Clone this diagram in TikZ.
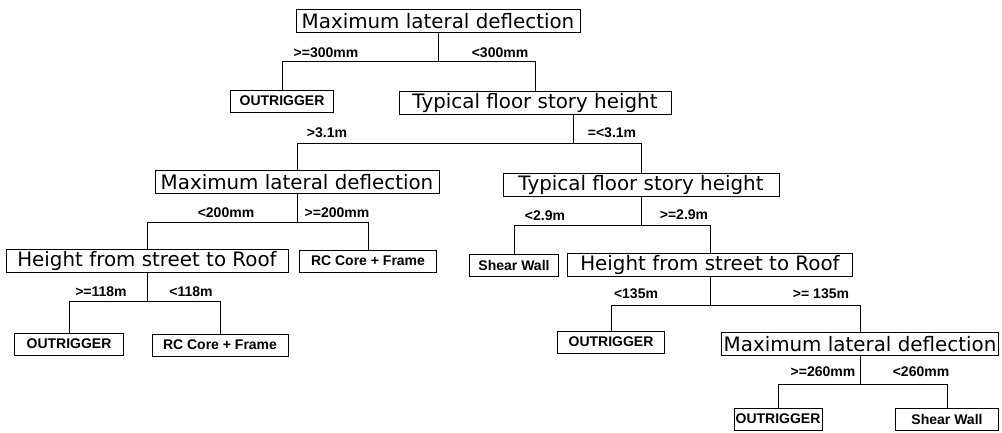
\documentclass[tikz,border=0pt]{standalone}
\usepackage{fontspec}
\setmainfont{Liberation Sans}
\newfontfamily\qfont{DejaVu Sans}

\begin{document}
\begin{tikzpicture}[x=0.75pt, y=-0.75pt, line width=0.6pt,
    qbox/.style={draw, font=\qfont\fontsize{14.9}{17}\selectfont, inner sep=1pt, minimum height=17.25pt},
    rbox/.style={draw, font=\bfseries\fontsize{10.5}{12}\selectfont, inner sep=1pt, minimum height=16.5pt},
    cond/.style={font=\bfseries\fontsize{10.5}{12}\selectfont, inner sep=0pt}]
    \useasboundingbox (0,0) rectangle (1002,432);
    % Questions
    \foreach \n/\x/\y/\w/\t in {q1/438/21/284/Maximum lateral deflection,
        q2/535/103/272/Typical floor story height, q3/297/182/284/Maximum lateral deflection,
        q4/641/185/276/Typical floor story height, q5/147/261/282/Height from street to Roof,
        q6/710/265/285/Height from street to Roof, q7/860/344/277/Maximum lateral deflection}
        \node[qbox, minimum width=\w*0.75pt] (\n) at (\x,\y) {\t};
    % Results
    \foreach \n/\x/\y/\w/\t in {r1/282/101/103/OUTRIGGER, r2/368/261/137/RC Core + Frame,
        r3/514/265/89/Shear Wall, r4/69/344/109/OUTRIGGER, r5/220/345/136/RC Core + Frame,
        r6/611/342/107/OUTRIGGER, r7/778/419/88/OUTRIGGER, r8/947/419/103/Shear Wall}
        \node[rbox, minimum width=\w*0.75pt] (\n) at (\x,\y) {\t};
    % Branches
    \foreach \p/\c in {q1/r1, q1/q2, q3/q5, q3/r2, q4/r3, q4/q6, q5/r4, q5/r5, q6/r6, q6/q7, q7/r7, q7/r8}
        \draw (\p.south) -- ++(0,28) -| (\c.north);
    \draw ([xshift=29pt]q2.south) -- ++(0,28) -| (q3.north);
    \draw ([xshift=29pt]q2.south) -- ++(0,28) -| (q4.north);
    % Conditions
    \foreach \n/\x/\y/\t in {c1a/326/53/{>=300mm}, c1b/500/53/{<300mm}, c2a/327/133/{>3.1m},
        c2b/612/133/{=<3.1m}, c3a/226/213/{<200mm}, c3b/337/213/{>=200mm}, c4a/545/216/{<2.9m},
        c4b/684/215/{>=2.9m}, c5a/101/292/{>=118m}, c5b/191/292/{<118m}, c6a/636/294/{<135m},
        c6b/821/294/{>= 135m}, c7a/823/372/{>=260mm}, c7b/921/372/{<260mm}}
        \node[cond] (\n) at (\x,\y) {\t};
\end{tikzpicture}
\end{document}
